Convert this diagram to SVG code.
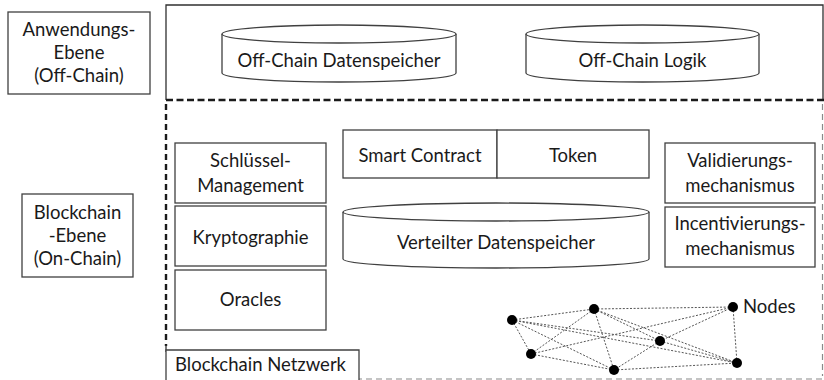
<svg xmlns="http://www.w3.org/2000/svg" width="824" height="380" viewBox="0 0 824 380">
<style>
  .box { fill: #fff; stroke: #404040; stroke-width: 1.3; }
  .cyl { fill: #fff; stroke: #404040; stroke-width: 1.3; }
  .t { font-family: Lato, "Liberation Sans", sans-serif; font-size: 18.5px; fill: #1a1a1a; text-anchor: middle; }
  .ts { font-family: Lato, "Liberation Sans", sans-serif; font-size: 18.5px; fill: #1a1a1a; }
  .solid { fill: none; stroke: #303030; stroke-width: 1.3; }
  .dash { fill: none; stroke: #1a1a1a; stroke-width: 2.4; stroke-dasharray: 7 3.5; }
  .dashv { fill: none; stroke: #1a1a1a; stroke-width: 2.4; stroke-dasharray: 6 4; }
  .faint { fill: none; stroke: #8a8a8a; stroke-width: 1.2; stroke-dasharray: 6 4; }
  .edge { stroke: #555; stroke-width: 1; stroke-dasharray: 2 1.6; fill: none; }
  .node { fill: #000; }
</style>

<g id="frame">
  <path class="solid" d="M166,100 L166,5 L823,5 L823,100"/>
  <line class="dash" x1="166" y1="100" x2="824" y2="100"/>
  <line class="dashv" x1="166" y1="104" x2="166" y2="346"/>
  <line class="solid" x1="166" y1="345" x2="166" y2="352"/>
  <line class="faint" x1="166" y1="379" x2="824" y2="379"/>
  <line class="faint" x1="822.5" y1="104" x2="822.5" y2="376"/>
</g>

<g id="anwendungs-ebene">
  <rect class="box" x="8" y="12" width="142" height="82"/>
  <text class="t" x="79" y="36">Anwendungs-</text>
  <text class="t" x="79" y="59">Ebene</text>
  <text class="t" x="79" y="82">(Off-Chain)</text>
</g>

<g id="blockchain-ebene">
  <rect class="box" x="22" y="194" width="111" height="83"/>
  <text class="t" x="77.5" y="219">Blockchain</text>
  <text class="t" x="77.5" y="242">-Ebene</text>
  <text class="t" x="77.5" y="265">(On-Chain)</text>
</g>

<g id="offchain-datenspeicher">
  <path class="cyl" d="M222,34 L222,73 A117,9 0 0 0 456,73 L456,34"/>
  <ellipse class="cyl" cx="339" cy="34" rx="117" ry="9"/>
  <text class="t" x="339" y="67">Off-Chain Datenspeicher</text>
</g>

<g id="offchain-logik">
  <path class="cyl" d="M526,34 L526,73 A116.5,9 0 0 0 759,73 L759,34"/>
  <ellipse class="cyl" cx="642.5" cy="34" rx="116.5" ry="9"/>
  <text class="t" x="642.5" y="67">Off-Chain Logik</text>
</g>

<g id="schluessel-management">
  <rect class="box" x="175" y="143" width="151" height="60"/>
  <text class="t" x="250.5" y="167">Schlüssel-</text>
  <text class="t" x="250.5" y="192">Management</text>
</g>

<g id="kryptographie">
  <rect class="box" x="175" y="206" width="151" height="60"/>
  <text class="t" x="250.5" y="244">Kryptographie</text>
</g>

<g id="oracles">
  <rect class="box" x="175" y="270" width="151" height="60"/>
  <text class="t" x="250.5" y="306">Oracles</text>
</g>

<g id="smart-contract">
  <rect class="box" x="343" y="130" width="154" height="48"/>
  <text class="t" x="420" y="162">Smart Contract</text>
</g>

<g id="token">
  <rect class="box" x="497" y="130" width="152" height="48"/>
  <text class="t" x="573" y="162">Token</text>
</g>

<g id="validierungsmechanismus">
  <rect class="box" x="665" y="143" width="150" height="60"/>
  <text class="t" x="740" y="167">Validierungs-</text>
  <text class="t" x="740" y="192">mechanismus</text>
</g>

<g id="incentivierungsmechanismus">
  <rect class="box" x="665" y="207" width="150" height="60"/>
  <text class="t" x="740" y="230">Incentivierungs-</text>
  <text class="t" x="740" y="255">mechanismus</text>
</g>

<g id="verteilter-datenspeicher">
  <path class="cyl" d="M343,212 L343,259 A153,9 0 0 0 649,259 L649,212"/>
  <ellipse class="cyl" cx="496" cy="212" rx="153" ry="9"/>
  <text class="t" x="496" y="249">Verteilter Datenspeicher</text>
</g>

<g id="blockchain-netzwerk">
  <path class="box" d="M166,380 L166,350 L359,350 L359,380"/>
  <text class="ts" x="175" y="371">Blockchain Netzwerk</text>
</g>

<g id="connectors">
  <line class="edge" x1="512" y1="320" x2="594" y2="309"/>
  <line class="edge" x1="512" y1="320" x2="531" y2="354"/>
  <line class="edge" x1="512" y1="320" x2="614" y2="370"/>
  <line class="edge" x1="512" y1="320" x2="660" y2="341"/>
  <line class="edge" x1="512" y1="320" x2="737" y2="363"/>
  <line class="edge" x1="594" y1="309" x2="733" y2="307"/>
  <line class="edge" x1="594" y1="309" x2="531" y2="354"/>
  <line class="edge" x1="594" y1="309" x2="614" y2="370"/>
  <line class="edge" x1="594" y1="309" x2="660" y2="341"/>
  <line class="edge" x1="594" y1="309" x2="737" y2="363"/>
  <line class="edge" x1="733" y1="307" x2="660" y2="341"/>
  <line class="edge" x1="733" y1="307" x2="531" y2="354"/>
  <line class="edge" x1="733" y1="307" x2="737" y2="363"/>
  <line class="edge" x1="660" y1="341" x2="614" y2="370"/>
  <line class="edge" x1="660" y1="341" x2="737" y2="363"/>
  <line class="edge" x1="531" y1="354" x2="614" y2="370"/>
  <line class="edge" x1="614" y1="370" x2="737" y2="363"/>
</g>

<g id="nodes">
  <circle class="node" cx="512" cy="320" r="5"/>
  <circle class="node" cx="594" cy="309" r="5"/>
  <circle class="node" cx="733" cy="307" r="5"/>
  <circle class="node" cx="660" cy="341" r="5"/>
  <circle class="node" cx="531" cy="354" r="5"/>
  <circle class="node" cx="614" cy="370" r="5"/>
  <circle class="node" cx="737" cy="363" r="5"/>
  <text class="ts" x="743" y="313">Nodes</text>
</g>
</svg>
